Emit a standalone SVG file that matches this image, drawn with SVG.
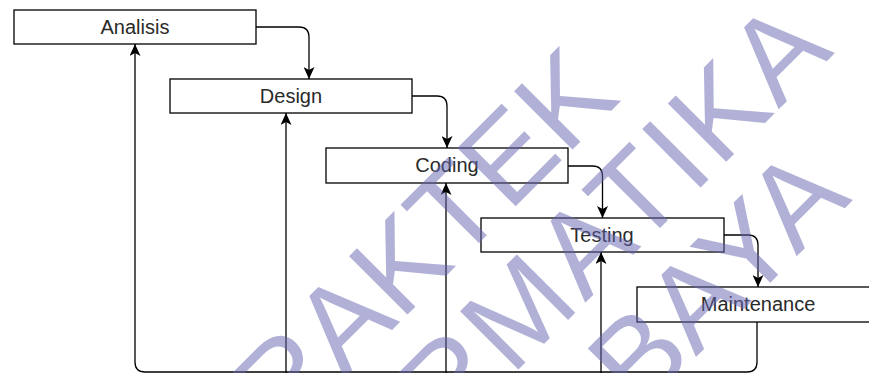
<svg xmlns="http://www.w3.org/2000/svg" width="869" height="373" viewBox="0 0 869 373">
  <style>
    .box { fill: #ffffff; stroke: #000000; stroke-width: 1.3; }
    .label { font-family: "Liberation Sans", Arial, sans-serif; font-size: 20px; fill: #2a2a2a; text-anchor: middle; }
    .edge { fill: none; stroke: #000000; stroke-width: 1.3; marker-end: url(#arrow); }
    .mark { font-family: "Liberation Sans", Arial, sans-serif; font-size: 120px; fill: #6666b3; text-anchor: end; }
  </style>
  <defs>
    <marker id="arrow" viewBox="0 0 12 11" refX="12" refY="5.5" markerWidth="12" markerHeight="11" markerUnits="userSpaceOnUse" orient="auto">
      <path d="M0,0 L12,5.5 L0,11 L3,5.5 Z" fill="#000000"/>
    </marker>
  </defs>
  <rect width="869" height="373" fill="#ffffff"/>

  <!-- process steps -->
  <g id="analisis">
    <rect class="box" x="14" y="10" width="242" height="34"/>
    <text class="label" x="135" y="34">Analisis</text>
  </g>
  <g id="design">
    <rect class="box" x="170" y="79" width="242" height="34"/>
    <text class="label" x="291" y="103">Design</text>
  </g>
  <g id="coding">
    <rect class="box" x="326" y="148" width="242" height="35"/>
    <text class="label" x="447" y="172">Coding</text>
  </g>
  <g id="testing">
    <rect class="box" x="481" y="218" width="243" height="34"/>
    <text class="label" x="602" y="242">Testing</text>
  </g>
  <g id="maintenance">
    <rect class="box" x="637" y="287" width="242" height="35"/>
    <text class="label" x="758" y="311">Maintenance</text>
  </g>

  <!-- connectors -->
  <g id="connectors">
    <path class="edge" d="M256,27 H299 Q309,27 309,37 V79"/>
    <path class="edge" d="M412,96 H437 Q447,96 447,106 V148"/>
    <path class="edge" d="M568,166 H592.5 Q602.5,166 602.5,176 V218"/>
    <path class="edge" d="M724,235 H748 Q758,235 758,245 V287"/>
    <path class="edge" d="M757,322 V362 Q757,372 747,372 H145 Q135,372 135,362 V44"/>
    <path class="edge" d="M286,390 V113"/>
    <path class="edge" d="M446,390 V183"/>
    <path class="edge" d="M601,390 V252"/>
  </g>

  <!-- watermark -->
  <g id="watermark" opacity="0.5">
    <text class="mark" transform="translate(622,100) rotate(-45)">PRAKTEK</text>
    <text class="mark" letter-spacing="4" transform="translate(838,50) rotate(-45)">INFORMATIKA</text>
    <text class="mark" transform="translate(853,200) rotate(-45)">SURABAYA</text>
  </g>
</svg>
